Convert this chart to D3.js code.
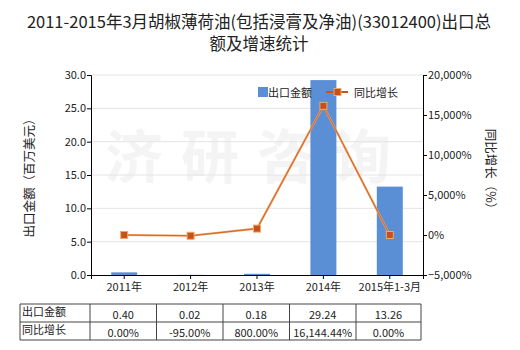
<!DOCTYPE html>
<html><head><meta charset="utf-8">
<script src="https://cdn.jsdelivr.net/npm/d3@7"></script>
<style>body{margin:0;background:#fff;} text{font-family:"Noto Sans CJK SC","Microsoft YaHei",sans-serif;}</style>
</head><body>
<svg id="c" width="520" height="350"></svg>
<script>
const categories = ["2011年","2012年","2013年","2014年","2015年1-3月"];
const exportValues = [0.40, 0.02, 0.18, 29.24, 13.26];
const growthValues = [0.00, -95.00, 800.00, 16144.44, 0.00];
const exportLabels = ["0.40","0.02","0.18","29.24","13.26"];
const growthLabels = ["0.00%","-95.00%","800.00%","16,144.44%","0.00%"];
const leftTicks = [0,5,10,15,20,25,30];
const rightTicks = [-5000,0,5000,10000,15000,20000];
const titleLines = ["2011-2015年3月胡椒薄荷油(包括浸膏及净油)(33012400)出口总","额及增速统计"];

const svg = d3.select("#c");
const L = 91, R = 423, T = 75, B = 275;
const x = d3.scaleBand().domain(categories).range([L, R]);
const yL = d3.scaleLinear().domain([0, 30]).range([B, T]);
const yR = d3.scaleLinear().domain([-5000, 20000]).range([B, T]);

// watermark
svg.append("text").attr("x", 257).attr("y", 178).attr("text-anchor","middle")
  .attr("font-size", 58).attr("font-weight","bold").attr("fill","#f4f4f4").attr("letter-spacing", 18)
  .text("济研咨询");

// title
svg.selectAll(".title").data(titleLines).enter().append("text")
  .attr("x", 259).attr("y", (d,i)=> 28 + i*22).attr("text-anchor","middle")
  .attr("font-size", 16.5).attr("fill","#222").text(d=>d);

// grid
svg.append("g").selectAll("line").data(leftTicks.slice(1)).enter().append("line")
  .attr("x1", L).attr("x2", R).attr("y1", d=>yL(d)).attr("y2", d=>yL(d))
  .attr("stroke","#e4e4e4").attr("stroke-width",1);

// bars
const bw = 26;
svg.append("g").selectAll("rect").data(exportValues).enter().append("rect")
  .attr("x", (d,i)=> x(categories[i]) + x.bandwidth()/2 - bw/2)
  .attr("y", d=> yL(d)).attr("width", bw).attr("height", d=> B - yL(d))
  .attr("fill","#5b8fd5");

// line
const line = d3.line().x((d,i)=> x(categories[i]) + x.bandwidth()/2).y(d=> yR(d));
svg.append("path").datum(growthValues).attr("d", line).attr("fill","none")
  .attr("stroke","#f0a060").attr("stroke-width",2.2);
svg.append("path").datum(growthValues).attr("d", line).attr("fill","none")
  .attr("stroke","#c8561c").attr("stroke-width",0.8);
svg.append("g").selectAll("rect").data(growthValues).enter().append("rect")
  .attr("x", (d,i)=> x(categories[i]) + x.bandwidth()/2 - 3.5)
  .attr("y", d=> yR(d) - 3.5).attr("width",7).attr("height",7)
  .attr("fill","#c4521a").attr("stroke","#f0a868").attr("stroke-width",1);

// axes
const fmtL = d3.format(".1f");
const gL = svg.append("g").attr("transform",`translate(${L},0)`)
  .call(d3.axisLeft(yL).tickValues(leftTicks).tickFormat(fmtL).tickSizeOuter(0).tickSize(4));
const gR = svg.append("g").attr("transform",`translate(${R},0)`)
  .call(d3.axisRight(yR).tickValues(rightTicks).tickFormat(d=> d3.format(",")(d)+"%").tickSizeOuter(0).tickSize(4));
const gB = svg.append("g").attr("transform",`translate(0,${B})`)
  .call(d3.axisBottom(x).tickSizeOuter(0).tickSize(4));
[gL,gR,gB].forEach(g=>{
  g.selectAll("text").attr("font-size",11).attr("fill","#222").style("font-family","'Noto Sans CJK SC',sans-serif");
  g.selectAll("line").attr("stroke","#000");
  g.select(".domain").attr("stroke","#000");
});
gL.selectAll("text").attr("x",-5);
gR.selectAll("text").attr("x",5);
gB.selectAll("text").attr("y",8);

// axis titles
svg.append("text").attr("transform","translate(34,175) rotate(-90)").attr("text-anchor","middle")
  .attr("font-size",12.5).attr("fill","#222").text("出口金额（百万美元）");
svg.append("text").attr("transform","translate(486,172) rotate(90)").attr("text-anchor","middle")
  .attr("font-size",12.5).attr("fill","#222").text("同比增长（%）");

// legend
svg.append("rect").attr("x",258).attr("y",87).attr("width",10).attr("height",10).attr("fill","#5b8fd5");
svg.append("text").attr("x",268).attr("y",96.5).attr("font-size",11).attr("fill","#222").text("出口金额");
svg.append("line").attr("x1",326).attr("x2",348).attr("y1",92).attr("y2",92).attr("stroke","#c8561c").attr("stroke-width",2);
svg.append("rect").attr("x",334).attr("y",88.5).attr("width",7).attr("height",7).attr("fill","#c4521a").attr("stroke","#f0a868");
svg.append("text").attr("x",354).attr("y",96.5).attr("font-size",11).attr("fill","#222").text("同比增长");

// table
const colX = [20,90,156.5,223,289.5,356,421];
const rowY = [304,322,340];
const tg = svg.append("g");
colX.forEach(cx=> tg.append("line").attr("x1",cx).attr("x2",cx).attr("y1",rowY[0]).attr("y2",rowY[2]).attr("stroke","#444"));
rowY.forEach(ry=> tg.append("line").attr("x1",colX[0]).attr("x2",colX[6]).attr("y1",ry).attr("y2",ry).attr("stroke","#444"));
const rows = [["出口金额", exportLabels],["同比增长", growthLabels]];
rows.forEach((r,ri)=>{
  tg.append("text").attr("x",22).attr("y",rowY[ri]+12).attr("font-size",11).attr("fill","#222").text(r[0]);
  r[1].forEach((v,ci)=>{
    tg.append("text").attr("x",(colX[ci+1]+colX[ci+2])/2).attr("y",rowY[ri]+15).attr("text-anchor","middle")
      .attr("font-size",11).attr("fill","#222").text(v);
  });
});
</script>
</body></html>
